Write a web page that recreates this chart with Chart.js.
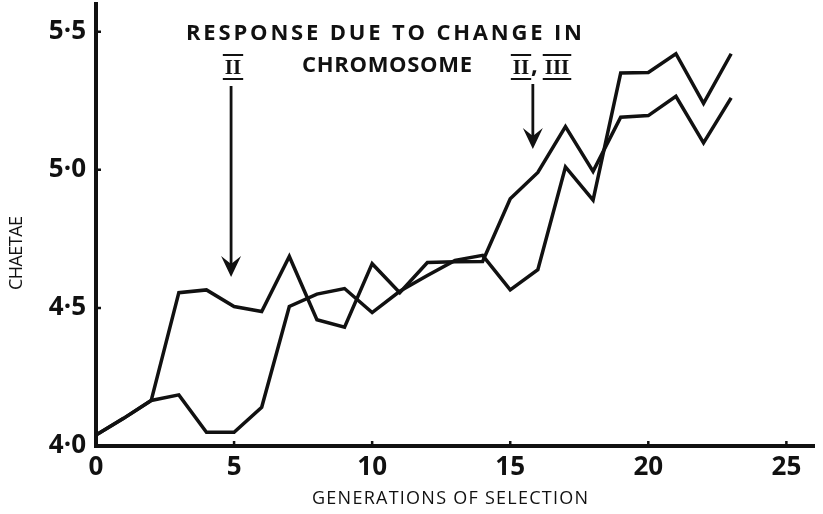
<!DOCTYPE html>
<html>
<head>
<meta charset="utf-8">
<script src="https://cdn.jsdelivr.net/npm/chart.js@4.4.0/dist/chart.umd.min.js"></script>
<style>
    body { margin: 0; background: #fff; }
    #wrap { width: 823px; height: 514px; }
</style>
</head>
<body>
<div id="wrap"><canvas id="chaetaeChart" width="823" height="514"></canvas></div>
<script>
// generations of selection and mean chaetae number of the two lines
const generations = [0, 1, 2, 3, 4, 5, 6, 7, 8, 9, 10, 11, 12, 13, 14, 15, 16, 17, 18, 19, 20, 21, 22, 23];
const lineA = [4.04, 4.10, 4.165, 4.555, 4.565, 4.505, 4.487, 4.686, 4.457, 4.43, 4.66, 4.555,
    4.664, 4.667, 4.668, 4.895, 4.99, 5.156, 4.994, 5.19, 5.196, 5.266, 5.097, 5.26];
const lineB = [4.04, 4.10, 4.165, 4.185, 4.05, 4.05, 4.14, 4.505, 4.55, 4.57, 4.483, 4.56,
    4.617, 4.672, 4.69, 4.565, 4.638, 5.01, 4.89, 5.35, 5.352, 5.42, 5.24, 5.42];

const xTickValues = [0, 5, 10, 15, 20, 25];
const yTickValues = [4.0, 4.5, 5.0, 5.5];
const yTickLabels = ['4·0', '4·5', '5·0', '5·5'];

const INK = '#111';

// spread a string over a given width, letter by letter
function spacedText(ctx, text, left, right, y) {
    const widths = [...text].map(ch => ctx.measureText(ch).width);
    const total = widths.reduce((a, b) => a + b, 0);
    const gap = text.length > 1 ? (right - left - total) / (text.length - 1) : 0;
    let x = left;
    [...text].forEach((ch, i) => {
        ctx.fillText(ch, x, y);
        x += widths[i] + gap;
    });
}

function arrowDown(ctx, x, y0, y1) {
    ctx.beginPath();
    ctx.moveTo(x, y0);
    ctx.lineTo(x, y1 - 8);
    ctx.lineWidth = 2.8;
    ctx.stroke();
    ctx.beginPath();
    ctx.moveTo(x, y1);
    ctx.lineTo(x - 10, y1 - 21);
    ctx.lineTo(x, y1 - 13);
    ctx.lineTo(x + 10, y1 - 21);
    ctx.closePath();
    ctx.fill();
}

// roman numeral with bars above and below
function barredNumeral(ctx, text, cx, baseline) {
    ctx.font = 'bold 21px "Liberation Serif"';
    ctx.textAlign = 'center';
    ctx.fillText(text, cx, baseline);
    const w = ctx.measureText(text).width + 4;
    ctx.lineWidth = 2;
    ctx.beginPath();
    ctx.moveTo(cx - w / 2, baseline - 19);
    ctx.lineTo(cx + w / 2, baseline - 19);
    ctx.moveTo(cx - w / 2, baseline + 5);
    ctx.lineTo(cx + w / 2, baseline + 5);
    ctx.stroke();
    ctx.textAlign = 'left';
}

const decorations = {
    id: 'decorations',
    afterDraw(chart) {
        const ctx = chart.ctx;
        const xs = chart.scales.x;
        const ys = chart.scales.y;
        const area = chart.chartArea;
        ctx.save();
        ctx.fillStyle = INK;
        ctx.strokeStyle = INK;

        // short inner tick marks
        ctx.lineWidth = 2.5;
        ctx.beginPath();
        xTickValues.slice(1).forEach(v => {
            const px = xs.getPixelForValue(v);
            ctx.moveTo(px, area.bottom);
            ctx.lineTo(px, area.bottom - 5);
        });
        yTickValues.slice(1).forEach(v => {
            const py = ys.getPixelForValue(v);
            ctx.moveTo(area.left, py);
            ctx.lineTo(area.left + 5, py);
        });
        ctx.stroke();

        // axis titles
        ctx.font = '18px "Open Sans"';
        ctx.textBaseline = 'alphabetic';
        spacedText(ctx, 'GENERATIONS OF SELECTION', 312, 588, 504);
        ctx.save();
        ctx.translate(22, 290);
        ctx.rotate(-Math.PI / 2);
        spacedText(ctx, 'CHAETAE', 0, 74, 0);
        ctx.restore();

        // annotation
        ctx.font = 'bold 22px "Open Sans"';
        spacedText(ctx, 'RESPONSE DUE TO CHANGE IN', 186, 582, 40);
        spacedText(ctx, 'CHROMOSOME', 302, 472, 72);
        barredNumeral(ctx, 'II', 233, 74);
        barredNumeral(ctx, 'II', 521, 74);
        ctx.font = 'bold 24px "Open Sans"';
        ctx.fillText(',', 531, 73);
        barredNumeral(ctx, 'III', 557, 74);

        arrowDown(ctx, xs.getPixelForValue(5) - 3, 86, 277);
        arrowDown(ctx, xs.getPixelForValue(16) - 5, 84, 149);

        ctx.restore();
    }
};

const tickFont = { family: 'Open Sans', size: 26, weight: 'bold' };

new Chart(document.getElementById('chaetaeChart'), {
    type: 'line',
    data: {
        labels: generations,
        datasets: [
            {
                label: 'line A',
                data: generations.map((g, i) => ({ x: g, y: lineA[i] })),
                borderColor: INK,
                borderWidth: 3.5,
                pointRadius: 0,
                tension: 0,
            },
            {
                label: 'line B',
                data: generations.map((g, i) => ({ x: g, y: lineB[i] })),
                borderColor: INK,
                borderWidth: 3.5,
                pointRadius: 0,
                tension: 0,
            },
        ],
    },
    options: {
        responsive: false,
        animation: false,
        layout: { padding: { top: 4, right: 9, left: 0, bottom: 0 } },
        plugins: {
            legend: { display: false },
            tooltip: { enabled: false },
        },
        scales: {
            x: {
                type: 'linear',
                min: 0,
                max: 26,
                afterBuildTicks: (scale) => {
                    scale.ticks = xTickValues.map(v => ({ value: v }));
                },
                afterFit: (scale) => {
                    scale.height = 68;
                    scale.paddingLeft = 0;
                    scale.paddingRight = 0;
                },
                ticks: {
                    color: INK,
                    font: tickFont,
                    padding: 6,
                    maxRotation: 0,
                    callback: (v) => String(v),
                },
                grid: { drawOnChartArea: false, drawTicks: false },
                border: { display: true, color: INK, width: 4 },
            },
            y: {
                min: 4.0,
                max: 5.6,
                afterBuildTicks: (scale) => {
                    scale.ticks = yTickValues.map(v => ({ value: v }));
                },
                afterFit: (scale) => {
                    scale.width = 96;
                    scale.paddingTop = 0;
                    scale.paddingBottom = 0;
                },
                ticks: {
                    color: INK,
                    font: tickFont,
                    padding: 10,
                    callback: (v) => yTickLabels[yTickValues.indexOf(v)],
                },
                grid: { drawOnChartArea: false, drawTicks: false },
                border: { display: true, color: INK, width: 4 },
            },
        },
    },
    plugins: [decorations],
});
</script>
</body>
</html>
